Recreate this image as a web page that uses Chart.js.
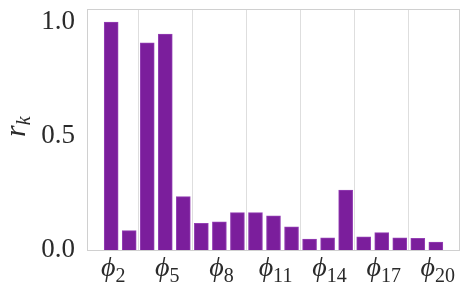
<!DOCTYPE html>
<html>
<head>
<meta charset="utf-8">
<script src="https://cdn.jsdelivr.net/npm/chart.js@4"></script>
<style>
  html, body { margin: 0; padding: 0; background: #fff; }
  #wrap { width: 469px; height: 297px; position: relative; }
</style>
</head>
<body>
<div id="wrap"><canvas id="chart"></canvas></div>
<script>
// ===== 数据 =====
var phiIndex = [2, 3, 4, 5, 6, 7, 8, 9, 10, 11, 12, 13, 14, 15, 16, 17, 18, 19, 20];
var rkValues = [1.0, 0.085, 0.909, 0.947, 0.234, 0.117, 0.124, 0.164, 0.164, 0.150,
                0.102, 0.048, 0.053, 0.263, 0.058, 0.076, 0.053, 0.051, 0.035];
var xTicks = [2, 5, 8, 11, 14, 17, 20];
var yTicks = [0, 0.5, 1.0];

var BAR_FILL = '#7b1e9c';
var BAR_EDGE = '#9440b4';
var SPINE = '#d0d0d0';
var GRID = '#dedede';
var TEXT = '#2a2a2a';
var SERIF = '"Liberation Serif", "DejaVu Serif", serif';

var points = phiIndex.map(function(k, i) { return { x: k, y: rkValues[i] }; });

// 边框 + 自定义标签（下标）
var decorPlugin = {
  id: 'decor',
  afterDraw: function(chart) {
    var ctx = chart.ctx;
    var a = chart.chartArea;
    ctx.save();
    ctx.strokeStyle = SPINE;
    ctx.lineWidth = 1;
    ctx.strokeRect(a.left + 0.5, a.top + 0.5, a.right - a.left - 1, a.bottom - a.top);

    ctx.fillStyle = TEXT;
    ctx.textBaseline = 'alphabetic';
    var xs = chart.scales.x;
    xTicks.forEach(function(k) {
      var px = xs.getPixelForValue(k);
      var sub = String(k);
      ctx.font = 'italic 28px ' + SERIF;
      var w1 = ctx.measureText('\u03D5').width;
      ctx.font = '20px ' + SERIF;
      var w2 = ctx.measureText(sub).width;
      var x0 = px - (w1 + w2) / 2 + 2;
      ctx.font = 'italic 28px ' + SERIF;
      ctx.textAlign = 'left';
      ctx.fillText('\u03D5', x0, 276);
      ctx.font = '20px ' + SERIF;
      ctx.fillText(sub, x0 + w1, 282);
    });

    // y 轴标题 r_k
    ctx.translate(25, 137);
    ctx.rotate(-Math.PI / 2);
    ctx.textAlign = 'left';
    ctx.font = 'italic 30px ' + SERIF;
    ctx.fillText('r', 0, 0);
    var wr = ctx.measureText('r').width;
    ctx.font = 'italic 20px ' + SERIF;
    ctx.fillText('k', wr, 5);
    ctx.restore();
  }
};

new Chart(document.getElementById('chart'), {
  type: 'bar',
  data: {
    datasets: [{
      data: points,
      backgroundColor: BAR_FILL,
      borderColor: BAR_EDGE,
      borderWidth: 1,
      barThickness: 14
    }]
  },
  options: {
    responsive: true,
    maintainAspectRatio: false,
    animation: false,
    layout: { autoPadding: false, padding: { top: 9, right: 9, left: 0, bottom: 0 } },
    plugins: { legend: { display: false }, tooltip: { enabled: false } },
    scales: {
      x: {
        type: 'linear',
        min: 0.66,
        max: 21.34,
        offset: false,
        afterBuildTicks: function(s) { s.ticks = xTicks.map(function(v) { return { value: v }; }); },
        afterFit: function(s) { s.height = 47; s.paddingLeft = 0; s.paddingRight = 0; },
        grid: { display: true, color: GRID, drawTicks: false },
        border: { display: false },
        ticks: { display: false }
      },
      y: {
        min: 0,
        max: 1.057,
        afterBuildTicks: function(s) { s.ticks = yTicks.map(function(v) { return { value: v }; }); },
        afterFit: function(s) { s.width = 87; s.paddingTop = 0; s.paddingBottom = 0; },
        grid: { display: false, drawTicks: false },
        border: { display: false },
        ticks: {
          padding: 12,
          color: TEXT,
          font: { family: SERIF, size: 27 },
          callback: function(v) { return Number(v).toFixed(1); }
        }
      }
    }
  },
  plugins: [decorPlugin]
});
</script>
</body>
</html>
